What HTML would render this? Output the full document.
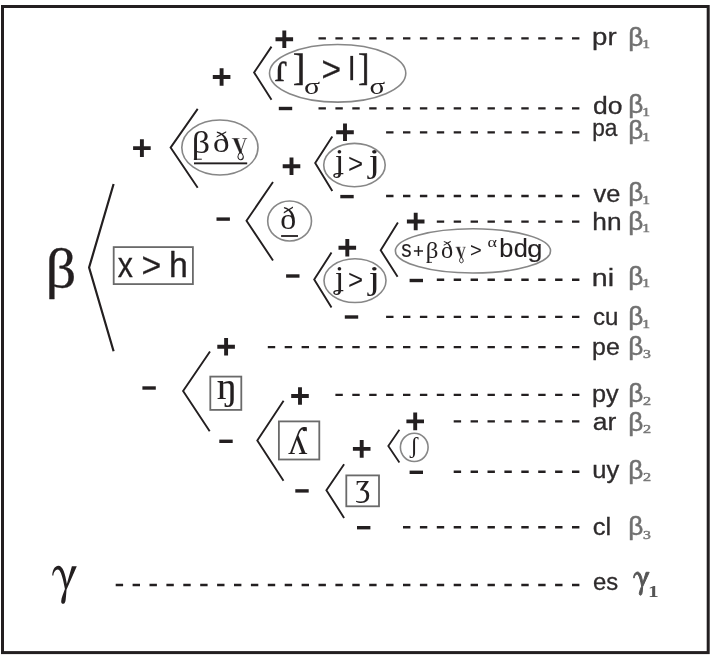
<!DOCTYPE html>
<html><head><meta charset="utf-8"><title>Diagram</title>
<style>
html,body{margin:0;padding:0;background:#fff;}
body{width:711px;height:656px;overflow:hidden;font-family:"Liberation Sans",sans-serif;}
svg{display:block;will-change:transform;}
</style></head><body>
<svg width="711" height="656" viewBox="0 0 711 656">

<rect x="2.5" y="6.5" width="705.7" height="646.1" stroke="#231f20" stroke-width="3" fill="none"/>
<line x1="579.4" y1="38.4" x2="318.2" y2="38.4" stroke="#231f20" stroke-width="2.35" stroke-dasharray="7.4 9.5"/>
<line x1="579.4" y1="108.4" x2="318.2" y2="108.4" stroke="#231f20" stroke-width="2.35" stroke-dasharray="7.4 9.5"/>
<line x1="579.4" y1="132.3" x2="385.2" y2="132.3" stroke="#231f20" stroke-width="2.35" stroke-dasharray="7.4 9.5"/>
<line x1="579.4" y1="196.0" x2="385.2" y2="196.0" stroke="#231f20" stroke-width="2.35" stroke-dasharray="7.4 9.5"/>
<line x1="579.4" y1="221.6" x2="435.2" y2="221.6" stroke="#231f20" stroke-width="2.35" stroke-dasharray="7.4 9.5"/>
<line x1="579.4" y1="279.7" x2="435.2" y2="279.7" stroke="#231f20" stroke-width="2.35" stroke-dasharray="7.4 9.5"/>
<line x1="579.4" y1="316.8" x2="385.2" y2="316.8" stroke="#231f20" stroke-width="2.35" stroke-dasharray="7.4 9.5"/>
<line x1="579.4" y1="347.1" x2="266.9" y2="347.1" stroke="#231f20" stroke-width="2.35" stroke-dasharray="7.4 9.5"/>
<line x1="579.4" y1="394.8" x2="334.5" y2="394.8" stroke="#231f20" stroke-width="2.35" stroke-dasharray="7.4 9.5"/>
<line x1="579.4" y1="421.3" x2="452.5" y2="421.3" stroke="#231f20" stroke-width="2.35" stroke-dasharray="7.4 9.5"/>
<line x1="579.4" y1="471.7" x2="452.5" y2="471.7" stroke="#231f20" stroke-width="2.35" stroke-dasharray="7.4 9.5"/>
<line x1="579.4" y1="527.2" x2="402.4" y2="527.2" stroke="#231f20" stroke-width="2.35" stroke-dasharray="7.4 9.5"/>
<line x1="579.4" y1="585.0" x2="115.7" y2="585.0" stroke="#231f20" stroke-width="2.35" stroke-dasharray="7.4 9.5"/>
<polyline points="113.6,184 89.10000000000001,267.5 113.6,351.3" stroke="#231f20" stroke-width="2.2" fill="none" stroke-linejoin="miter"/>
<polyline points="197.7,108.9 170.6,147.6 197.7,187.8" stroke="#231f20" stroke-width="1.9" fill="none" stroke-linejoin="miter"/>
<polyline points="271.5,46.6 254.1,72.5 271.5,99.8" stroke="#231f20" stroke-width="1.9" fill="none" stroke-linejoin="miter"/>
<polyline points="273,182 246.5,220.7 273,260.5" stroke="#231f20" stroke-width="1.9" fill="none" stroke-linejoin="miter"/>
<polyline points="332.3,136.6 315.2,163 332.3,191" stroke="#231f20" stroke-width="1.9" fill="none" stroke-linejoin="miter"/>
<polyline points="331.5,252.6 314.2,279.4 331.5,307.4" stroke="#231f20" stroke-width="1.9" fill="none" stroke-linejoin="miter"/>
<polyline points="397.9,222.6 380.7,250.3 397.6,276.8" stroke="#231f20" stroke-width="1.9" fill="none" stroke-linejoin="miter"/>
<polyline points="210,351.5 183.1,391 209.7,431.2" stroke="#231f20" stroke-width="1.9" fill="none" stroke-linejoin="miter"/>
<polyline points="283.6,400.7 257.3,440.6 283.5,480.8" stroke="#231f20" stroke-width="1.9" fill="none" stroke-linejoin="miter"/>
<polyline points="344.1,464.3 326.4,490.2 344.1,517.9" stroke="#231f20" stroke-width="1.9" fill="none" stroke-linejoin="miter"/>
<polyline points="399.4,429.8 388.3,445.9 399.4,462.5" stroke="#231f20" stroke-width="1.8" fill="none" stroke-linejoin="miter"/>
<ellipse cx="337.65" cy="73.30" rx="68.15" ry="28.80" stroke="#878787" stroke-width="1.6" fill="none"/>
<ellipse cx="219.90" cy="147.50" rx="38.10" ry="27.50" stroke="#878787" stroke-width="1.6" fill="none"/>
<ellipse cx="354.45" cy="165.10" rx="30.75" ry="21.70" stroke="#878787" stroke-width="1.6" fill="none"/>
<ellipse cx="289.60" cy="221.00" rx="21.90" ry="20.00" stroke="#878787" stroke-width="1.6" fill="none"/>
<ellipse cx="355.00" cy="280.60" rx="31.00" ry="21.90" stroke="#878787" stroke-width="1.6" fill="none"/>
<ellipse cx="472.95" cy="250.90" rx="77.55" ry="22.10" stroke="#878787" stroke-width="1.6" fill="none"/>
<ellipse cx="414.25" cy="447.35" rx="13.85" ry="14.15" stroke="#878787" stroke-width="1.6" fill="none"/>
<rect x="113.70" y="247.10" width="79.20" height="37.00" stroke="#6a6a6a" stroke-width="1.8" fill="none"/>
<rect x="210.30" y="376.60" width="31.00" height="33.30" stroke="#6a6a6a" stroke-width="1.8" fill="none"/>
<rect x="278.90" y="421.40" width="40.40" height="38.10" stroke="#6a6a6a" stroke-width="1.8" fill="none"/>
<rect x="346.30" y="475.40" width="32.70" height="30.90" stroke="#6a6a6a" stroke-width="1.8" fill="none"/>
<path d="M275.50 39.20H293.10M284.30 30.40V48.00" stroke="#231f20" stroke-width="3.9" fill="none"/>
<path d="M212.80 77.00H230.40M221.60 68.20V85.80" stroke="#231f20" stroke-width="3.9" fill="none"/>
<path d="M133.10 148.10H150.70M141.90 139.30V156.90" stroke="#231f20" stroke-width="3.9" fill="none"/>
<path d="M336.20 132.20H353.80M345.00 123.40V141.00" stroke="#231f20" stroke-width="3.9" fill="none"/>
<path d="M282.70 166.30H300.30M291.50 157.50V175.10" stroke="#231f20" stroke-width="3.9" fill="none"/>
<path d="M338.50 247.80H356.10M347.30 239.00V256.60" stroke="#231f20" stroke-width="3.9" fill="none"/>
<path d="M406.90 221.50H424.50M415.70 212.70V230.30" stroke="#231f20" stroke-width="3.9" fill="none"/>
<path d="M217.30 346.70H234.90M226.10 337.90V355.50" stroke="#231f20" stroke-width="3.9" fill="none"/>
<path d="M291.20 396.00H308.80M300.00 387.20V404.80" stroke="#231f20" stroke-width="3.9" fill="none"/>
<path d="M352.90 448.90H370.50M361.70 440.10V457.70" stroke="#231f20" stroke-width="3.9" fill="none"/>
<path d="M406.40 421.40H424.00M415.20 412.60V430.20" stroke="#231f20" stroke-width="3.9" fill="none"/>
<path d="M278.80 108.50H292.20" stroke="#231f20" stroke-width="3.4" fill="none"/>
<path d="M340.30 196.60H353.70" stroke="#231f20" stroke-width="3.4" fill="none"/>
<path d="M216.50 219.10H229.90" stroke="#231f20" stroke-width="3.4" fill="none"/>
<path d="M344.80 317.00H358.20" stroke="#231f20" stroke-width="3.4" fill="none"/>
<path d="M286.10 276.00H299.50" stroke="#231f20" stroke-width="3.4" fill="none"/>
<path d="M409.60 280.50H423.00" stroke="#231f20" stroke-width="3.4" fill="none"/>
<path d="M219.30 441.30H232.70" stroke="#231f20" stroke-width="3.4" fill="none"/>
<path d="M142.40 388.00H155.80" stroke="#231f20" stroke-width="3.4" fill="none"/>
<path d="M295.30 490.90H308.70" stroke="#231f20" stroke-width="3.4" fill="none"/>
<path d="M357.00 527.70H370.40" stroke="#231f20" stroke-width="3.4" fill="none"/>
<path d="M409.60 472.30H423.00" stroke="#231f20" stroke-width="3.4" fill="none"/>
<text transform="matrix(0.6072 0 0 0.5594 45.49 287.09)" font-family="Liberation Serif" font-weight="normal" font-size="100" fill="#231f20" stroke="#231f20" stroke-width="0.51" stroke-linejoin="round">β</text>
<path d="M52.26 575.44C52.42 570.70 54.48 565.96 58.43 565.80C62.87 565.80 65.24 573.86 66.83 583.98L71.89 566.27L76.80 566.27L66.51 589.83C66.35 592.83 66.03 596.00 65.72 599.16C65.40 602.00 64.77 603.58 63.34 603.82C62.23 603.98 61.12 603.11 61.20 601.13C61.28 597.58 63.66 592.83 64.92 589.04C63.66 581.77 61.92 574.26 59.70 570.70C58.27 568.65 55.90 568.96 54.32 571.97C53.60 573.07 53.37 574.26 53.37 575.44Z" fill="#231f20"/>
<text transform="matrix(0.3033 0 0 0.3426 117.76 276.80)" font-family="Liberation Sans" font-weight="normal" font-size="100" fill="#231f20" stroke="#231f20" stroke-width="0.93" stroke-linejoin="round">x</text>
<text transform="matrix(0.3396 0 0 0.3446 141.43 277.49)" font-family="Liberation Sans" font-weight="normal" font-size="100" fill="#231f20" stroke="#231f20" stroke-width="0.58" stroke-linejoin="round">></text>
<text transform="matrix(0.3390 0 0 0.3505 168.95 276.80)" font-family="Liberation Sans" font-weight="normal" font-size="100" fill="#231f20" stroke="#231f20" stroke-width="0.87" stroke-linejoin="round">h</text>
<text transform="matrix(0.2760 0 0 0.2420 592.12 45.30)" font-family="Liberation Sans" font-weight="normal" font-size="100" fill="#2e2b2c" stroke="#2e2b2c" stroke-width="1.24">pr</text>
<text transform="matrix(0.2616 0 0 0.2596 628.19 46.11)" font-family="Liberation Sans" font-weight="normal" font-size="100" fill="#707070" stroke="#707070" stroke-width="1.92" stroke-linejoin="round">β</text>
<text transform="matrix(0.1562 0 0 0.1333 642.33 47.90)" font-family="Liberation Serif" font-weight="normal" font-size="100" fill="#7a7a7a" stroke="#7a7a7a" stroke-width="4.14" stroke-linejoin="round">1</text>
<text transform="matrix(0.2655 0 0 0.2420 592.99 113.70)" font-family="Liberation Sans" font-weight="normal" font-size="100" fill="#2e2b2c" stroke="#2e2b2c" stroke-width="1.24">do</text>
<text transform="matrix(0.2616 0 0 0.2639 628.19 112.72)" font-family="Liberation Sans" font-weight="normal" font-size="100" fill="#707070" stroke="#707070" stroke-width="1.90" stroke-linejoin="round">β</text>
<text transform="matrix(0.1562 0 0 0.1288 642.33 115.60)" font-family="Liberation Serif" font-weight="normal" font-size="100" fill="#7a7a7a" stroke="#7a7a7a" stroke-width="4.21" stroke-linejoin="round">1</text>
<text transform="matrix(0.2271 0 0 0.2420 592.24 135.90)" font-family="Liberation Sans" font-weight="normal" font-size="100" fill="#2e2b2c" stroke="#2e2b2c" stroke-width="1.24">pa</text>
<text transform="matrix(0.2616 0 0 0.2650 628.19 139.30)" font-family="Liberation Sans" font-weight="normal" font-size="100" fill="#707070" stroke="#707070" stroke-width="1.90" stroke-linejoin="round">β</text>
<text transform="matrix(0.1562 0 0 0.1303 642.33 140.70)" font-family="Liberation Serif" font-weight="normal" font-size="100" fill="#7a7a7a" stroke="#7a7a7a" stroke-width="4.19" stroke-linejoin="round">1</text>
<text transform="matrix(0.2534 0 0 0.2420 593.56 201.70)" font-family="Liberation Sans" font-weight="normal" font-size="100" fill="#2e2b2c" stroke="#2e2b2c" stroke-width="1.24">ve</text>
<text transform="matrix(0.2616 0 0 0.2596 628.19 200.71)" font-family="Liberation Sans" font-weight="normal" font-size="100" fill="#707070" stroke="#707070" stroke-width="1.92" stroke-linejoin="round">β</text>
<text transform="matrix(0.1562 0 0 0.1288 642.33 203.90)" font-family="Liberation Serif" font-weight="normal" font-size="100" fill="#7a7a7a" stroke="#7a7a7a" stroke-width="4.21" stroke-linejoin="round">1</text>
<text transform="matrix(0.2628 0 0 0.2420 592.28 229.80)" font-family="Liberation Sans" font-weight="normal" font-size="100" fill="#2e2b2c" stroke="#2e2b2c" stroke-width="1.24">hn</text>
<text transform="matrix(0.2616 0 0 0.2596 628.19 230.01)" font-family="Liberation Sans" font-weight="normal" font-size="100" fill="#707070" stroke="#707070" stroke-width="1.92" stroke-linejoin="round">β</text>
<text transform="matrix(0.1562 0 0 0.1348 642.33 232.30)" font-family="Liberation Serif" font-weight="normal" font-size="100" fill="#7a7a7a" stroke="#7a7a7a" stroke-width="4.12" stroke-linejoin="round">1</text>
<text transform="matrix(0.2863 0 0 0.2420 591.75 285.90)" font-family="Liberation Sans" font-weight="normal" font-size="100" fill="#2e2b2c" stroke="#2e2b2c" stroke-width="1.24">ni</text>
<text transform="matrix(0.2616 0 0 0.2575 628.19 284.56)" font-family="Liberation Sans" font-weight="normal" font-size="100" fill="#707070" stroke="#707070" stroke-width="1.93" stroke-linejoin="round">β</text>
<text transform="matrix(0.1562 0 0 0.1272 642.33 287.30)" font-family="Liberation Serif" font-weight="normal" font-size="100" fill="#7a7a7a" stroke="#7a7a7a" stroke-width="4.23" stroke-linejoin="round">1</text>
<text transform="matrix(0.2407 0 0 0.2420 593.08 325.10)" font-family="Liberation Sans" font-weight="normal" font-size="100" fill="#2e2b2c" stroke="#2e2b2c" stroke-width="1.24">cu</text>
<text transform="matrix(0.2616 0 0 0.2607 628.19 324.99)" font-family="Liberation Sans" font-weight="normal" font-size="100" fill="#707070" stroke="#707070" stroke-width="1.91" stroke-linejoin="round">β</text>
<text transform="matrix(0.1562 0 0 0.1272 642.33 327.80)" font-family="Liberation Serif" font-weight="normal" font-size="100" fill="#7a7a7a" stroke="#7a7a7a" stroke-width="4.23" stroke-linejoin="round">1</text>
<text transform="matrix(0.2491 0 0 0.2420 592.09 354.90)" font-family="Liberation Sans" font-weight="normal" font-size="100" fill="#2e2b2c" stroke="#2e2b2c" stroke-width="1.24">pe</text>
<text transform="matrix(0.2616 0 0 0.2575 628.19 355.16)" font-family="Liberation Sans" font-weight="normal" font-size="100" fill="#707070" stroke="#707070" stroke-width="1.93" stroke-linejoin="round">β</text>
<text transform="matrix(0.1574 0 0 0.1310 643.05 358.27)" font-family="Liberation Serif" font-weight="normal" font-size="100" fill="#7a7a7a" stroke="#7a7a7a" stroke-width="4.16" stroke-linejoin="round">3</text>
<text transform="matrix(0.2526 0 0 0.2420 592.07 402.30)" font-family="Liberation Sans" font-weight="normal" font-size="100" fill="#2e2b2c" stroke="#2e2b2c" stroke-width="1.24">py</text>
<text transform="matrix(0.2616 0 0 0.2618 628.19 402.37)" font-family="Liberation Sans" font-weight="normal" font-size="100" fill="#707070" stroke="#707070" stroke-width="1.91" stroke-linejoin="round">β</text>
<text transform="matrix(0.1621 0 0 0.1254 643.09 405.10)" font-family="Liberation Serif" font-weight="normal" font-size="100" fill="#7a7a7a" stroke="#7a7a7a" stroke-width="4.17" stroke-linejoin="round">2</text>
<text transform="matrix(0.2650 0 0 0.2420 592.77 430.20)" font-family="Liberation Sans" font-weight="normal" font-size="100" fill="#2e2b2c" stroke="#2e2b2c" stroke-width="1.24">ar</text>
<text transform="matrix(0.2616 0 0 0.2618 628.19 431.27)" font-family="Liberation Sans" font-weight="normal" font-size="100" fill="#707070" stroke="#707070" stroke-width="1.91" stroke-linejoin="round">β</text>
<text transform="matrix(0.1621 0 0 0.1254 643.09 433.40)" font-family="Liberation Serif" font-weight="normal" font-size="100" fill="#7a7a7a" stroke="#7a7a7a" stroke-width="4.17" stroke-linejoin="round">2</text>
<text transform="matrix(0.2557 0 0 0.2420 592.24 477.90)" font-family="Liberation Sans" font-weight="normal" font-size="100" fill="#2e2b2c" stroke="#2e2b2c" stroke-width="1.24">uy</text>
<text transform="matrix(0.2616 0 0 0.2618 628.19 478.77)" font-family="Liberation Sans" font-weight="normal" font-size="100" fill="#707070" stroke="#707070" stroke-width="1.91" stroke-linejoin="round">β</text>
<text transform="matrix(0.1621 0 0 0.1299 643.09 480.60)" font-family="Liberation Serif" font-weight="normal" font-size="100" fill="#7a7a7a" stroke="#7a7a7a" stroke-width="4.11" stroke-linejoin="round">2</text>
<text transform="matrix(0.2562 0 0 0.2420 592.81 534.90)" font-family="Liberation Sans" font-weight="normal" font-size="100" fill="#2e2b2c" stroke="#2e2b2c" stroke-width="1.24">cl</text>
<text transform="matrix(0.2616 0 0 0.2618 628.19 535.37)" font-family="Liberation Sans" font-weight="normal" font-size="100" fill="#707070" stroke="#707070" stroke-width="1.91" stroke-linejoin="round">β</text>
<text transform="matrix(0.1574 0 0 0.1295 643.05 538.67)" font-family="Liberation Serif" font-weight="normal" font-size="100" fill="#7a7a7a" stroke="#7a7a7a" stroke-width="4.18" stroke-linejoin="round">3</text>
<text transform="matrix(0.2384 0 0 0.2420 592.89 590.10)" font-family="Liberation Sans" font-weight="normal" font-size="100" fill="#2e2b2c" stroke="#2e2b2c" stroke-width="1.24">es</text>
<path d="M633.60 577.87C633.70 574.98 635.01 572.10 637.53 572.00C640.34 572.00 641.85 576.91 642.86 583.07L646.08 572.29L649.20 572.29L642.66 586.63C642.56 588.46 642.36 590.39 642.16 592.31C641.95 594.04 641.55 595.01 640.65 595.15C639.94 595.25 639.24 594.72 639.29 593.52C639.34 591.35 640.85 588.46 641.65 586.15C640.85 581.72 639.74 577.15 638.33 574.98C637.42 573.73 635.92 573.93 634.91 575.75C634.46 576.43 634.31 577.15 634.31 577.87Z" fill="#555555" stroke="#555555" stroke-width="1.0" stroke-linejoin="round"/>
<text transform="matrix(0.2146 0 0 0.1681 647.98 597.20)" font-family="Liberation Serif" font-weight="bold" font-size="100" fill="#555555">1</text>
<text transform="matrix(0.3836 0 0 0.4245 274.69 80.80)" font-family="Liberation Serif" font-weight="normal" font-size="100" fill="#231f20" stroke="#231f20" stroke-width="0.62" stroke-linejoin="round">ɾ</text>
<text transform="matrix(0.3638 0 0 0.3697 293.09 80.15)" font-family="Liberation Serif" font-weight="normal" font-size="100" fill="#231f20" stroke="#231f20" stroke-width="1.64" stroke-linejoin="round">]</text>
<text transform="matrix(0.2985 0 0 0.2359 304.06 94.47)" font-family="Liberation Serif" font-weight="normal" font-size="100" fill="#231f20">σ</text>
<text transform="matrix(0.3355 0 0 0.3525 321.45 80.95)" font-family="Liberation Sans" font-weight="normal" font-size="100" fill="#231f20" stroke="#231f20" stroke-width="0.87" stroke-linejoin="round">></text>
<rect x="350.3" y="55.9" width="2.8" height="24.3" fill="#231f20"/>
<text transform="matrix(0.3324 0 0 0.3697 358.20 80.15)" font-family="Liberation Serif" font-weight="normal" font-size="100" fill="#231f20" stroke="#231f20" stroke-width="1.71" stroke-linejoin="round">]</text>
<text transform="matrix(0.2902 0 0 0.2359 369.49 94.47)" font-family="Liberation Serif" font-weight="normal" font-size="100" fill="#231f20">σ</text>
<text transform="matrix(0.3608 0 0 0.3141 191.67 152.81)" font-family="Liberation Serif" font-weight="normal" font-size="100" fill="#231f20">β</text>
<text transform="matrix(0.3303 0 0 0.3008 212.94 152.21)" font-family="Liberation Serif" font-weight="normal" font-size="100" fill="#231f20">ð</text>
<path d="M231.80 138.53L239.50 138.53M242.53 138.53L247.20 138.53" stroke="#231f20" stroke-width="0.60" fill="none"/>
<path d="M233.50 138.64L237.35 138.64L241.64 151.60L240.54 153.60L239.44 152.49Z" fill="#231f20" stroke="#231f20" stroke-width="0.35" stroke-linejoin="round"/>
<path d="M245.38 138.64L240.66 151.94" stroke="#231f20" stroke-width="0.82" fill="none"/>
<path d="M240.44 151.94C238.78 153.71 237.80 154.93 237.91 156.81C238.07 158.91 239.78 159.80 240.76 159.69C242.53 159.47 243.46 158.14 243.29 156.48C243.13 154.82 241.97 153.38 240.76 151.94" stroke="#231f20" stroke-width="1.04" fill="none"/>
<rect x="194" y="162.4" width="53.2" height="1.9" fill="#231f20"/>
<text transform="matrix(0.3185 0 0 0.3134 280.29 229.29)" font-family="Liberation Serif" font-weight="normal" font-size="100" fill="#231f20">ð</text>
<rect x="281.1" y="235.1" width="16.9" height="1.8" fill="#231f20"/>
<text transform="matrix(0.3374 0 0 0.3244 334.72 171.48)" font-family="Liberation Serif" font-weight="normal" font-size="100" fill="#231f20">ʝ</text>
<text transform="matrix(0.2593 0 0 0.2796 348.12 173.00)" font-family="Liberation Sans" font-weight="normal" font-size="100" fill="#231f20">></text>
<text transform="matrix(0.4214 0 0 0.3371 368.61 172.32)" font-family="Liberation Serif" font-weight="normal" font-size="100" fill="#231f20">j</text>
<text transform="matrix(0.3374 0 0 0.3244 334.72 287.78)" font-family="Liberation Serif" font-weight="normal" font-size="100" fill="#231f20">ʝ</text>
<text transform="matrix(0.2593 0 0 0.2796 348.12 289.30)" font-family="Liberation Sans" font-weight="normal" font-size="100" fill="#231f20">></text>
<text transform="matrix(0.4214 0 0 0.3371 368.61 288.62)" font-family="Liberation Serif" font-weight="normal" font-size="100" fill="#231f20">j</text>
<text transform="matrix(0.2064 0 0 0.2324 401.13 256.77)" font-family="Liberation Sans" font-weight="normal" font-size="100" fill="#231f20" stroke="#231f20" stroke-width="0.55" stroke-linejoin="round">s</text>
<path d="M413.9 251.1H423M418.45 246.1V256.1" stroke="#231f20" stroke-width="1.5" fill="none"/>
<text transform="matrix(0.2488 0 0 0.2356 425.70 257.59)" font-family="Liberation Serif" font-weight="normal" font-size="100" fill="#231f20">β</text>
<text transform="matrix(0.2430 0 0 0.2294 441.07 258.08)" font-family="Liberation Serif" font-weight="normal" font-size="100" fill="#231f20">ð</text>
<path d="M455.50 247.24L460.65 247.24M462.67 247.24L465.80 247.24" stroke="#231f20" stroke-width="0.50" fill="none"/>
<path d="M456.64 247.33L459.22 247.33L462.08 256.87L461.35 258.33L460.61 257.52Z" fill="#231f20" stroke="#231f20" stroke-width="0.35" stroke-linejoin="round"/>
<path d="M464.59 247.33L461.42 257.11" stroke="#231f20" stroke-width="0.80" fill="none"/>
<path d="M461.28 257.11C460.17 258.42 459.51 259.31 459.58 260.70C459.69 262.25 460.83 262.90 461.50 262.82C462.67 262.66 463.30 261.68 463.19 260.45C463.08 259.23 462.31 258.17 461.50 257.11" stroke="#231f20" stroke-width="1.00" fill="none"/>
<text transform="matrix(0.2017 0 0 0.1989 470.11 256.60)" font-family="Liberation Sans" font-weight="normal" font-size="100" fill="#231f20">></text>
<text transform="matrix(0.1813 0 0 0.1495 487.51 246.75)" font-family="Liberation Serif" font-weight="normal" font-size="100" fill="#231f20">α</text>
<text transform="matrix(0.2535 0 0 0.2533 499.17 256.75)" font-family="Liberation Sans" font-weight="normal" font-size="100" fill="#231f20" stroke="#231f20" stroke-width="0.47" stroke-linejoin="round">b</text>
<text transform="matrix(0.2535 0 0 0.2533 513.64 256.75)" font-family="Liberation Sans" font-weight="normal" font-size="100" fill="#231f20" stroke="#231f20" stroke-width="0.47" stroke-linejoin="round">d</text>
<text transform="matrix(0.2735 0 0 0.2473 527.25 256.97)" font-family="Liberation Sans" font-weight="normal" font-size="100" fill="#231f20" stroke="#231f20" stroke-width="0.46" stroke-linejoin="round">g</text>
<text transform="matrix(0.4247 0 0 0.3742 216.43 398.73)" font-family="Liberation Serif" font-weight="normal" font-size="100" fill="#231f20">ŋ</text>
<text transform="matrix(0.3906 0 0 0.4001 288.09 454.40)" font-family="Liberation Serif" font-weight="normal" font-size="100" fill="#231f20">ʎ</text>
<text transform="matrix(0.3305 0 0 0.3125 355.47 495.74)" font-family="Liberation Serif" font-weight="normal" font-size="100" fill="#231f20">ʒ</text>
<text transform="matrix(0.2437 0 0 0.2351 409.88 453.11)" font-family="Liberation Serif" font-weight="normal" font-size="100" fill="#231f20">ʃ</text>
<circle cx="304.4" cy="429.3" r="1.9" fill="#231f20"/>
<rect x="193.8" y="158.7" width="8.0" height="1.0" fill="#231f20"/>
<rect x="426.4" y="261.9" width="5.6" height="0.8" fill="#231f20"/>
</svg>
</body></html>
